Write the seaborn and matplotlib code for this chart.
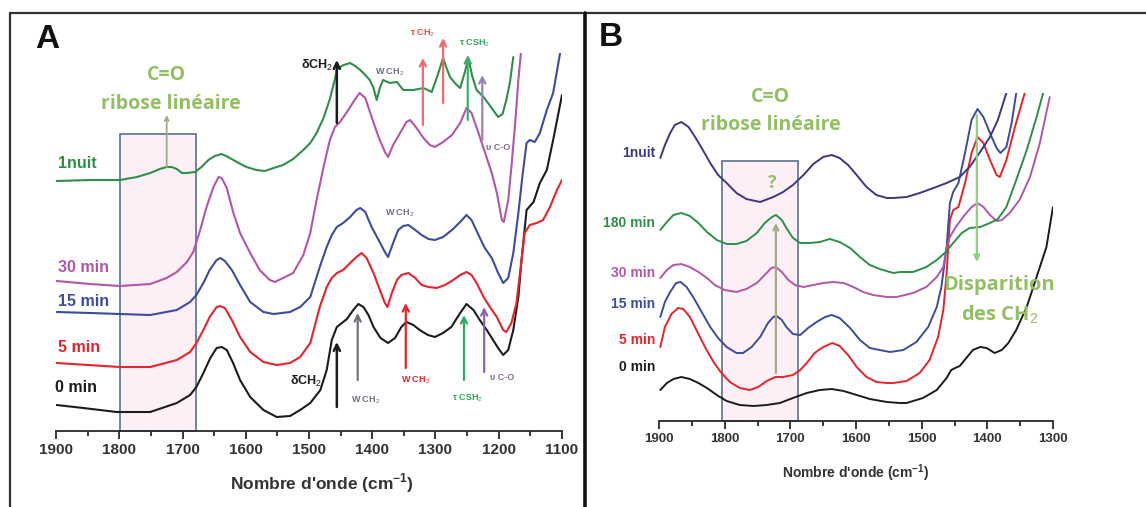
import matplotlib
matplotlib.use("Agg")
import matplotlib.pyplot as plt
from matplotlib import font_manager
from matplotlib.lines import Line2D
from matplotlib.patches import Rectangle
import seaborn as sns

# ---------------- Panel A : spectra 1900-1100 cm-1 (heights) ----------------
a_0min_wn = [1899, 1857, 1804, 1751, 1709, 1688, 1678, 1667, 1656, 1646,
             1638, 1630, 1620, 1609, 1593, 1572, 1551, 1530, 1514, 1498,
             1482, 1472, 1464, 1456, 1448, 1440, 1430, 1422, 1414, 1406,
             1398, 1387, 1375, 1364, 1354, 1346, 1335, 1325, 1312, 1301,
             1288, 1275, 1261, 1251, 1240, 1230, 1219, 1211, 1201, 1193,
             1185, 1177, 1169, 1164, 1156, 1145, 1135, 1124, 1114, 1100]
a_0min = [26, 23, 19, 19, 28, 36, 44, 58, 73, 83,
          84, 81, 68, 51, 34, 21, 14, 15, 21, 28,
          41, 61, 91, 104, 108, 112, 121, 127, 124, 116,
          104, 93, 88, 93, 104, 109, 106, 101, 96, 94,
          98, 104, 118, 127, 121, 111, 101, 93, 83, 76,
          81, 101, 134, 171, 221, 229, 248, 261, 291, 336]

a_5min_wn = [1899, 1799, 1751, 1709, 1688, 1678, 1667, 1657, 1646, 1641,
             1633, 1622, 1609, 1593, 1572, 1551, 1530, 1514, 1498, 1483,
             1472, 1464, 1456, 1446, 1435, 1425, 1417, 1409, 1398, 1388,
             1380, 1376, 1369, 1361, 1354, 1343, 1332, 1322, 1311, 1298,
             1285, 1272, 1261, 1251, 1243, 1235, 1224, 1214, 1203, 1193,
             1188, 1180, 1172, 1164, 1159, 1151, 1140, 1130, 1119, 1108, 1100]
a_5min = [68, 64, 64, 71, 79, 88, 101, 114, 124, 125,
          123, 111, 94, 79, 69, 66, 68, 74, 88, 124,
          144, 153, 158, 161, 168, 174, 178, 173, 158, 141,
          128, 124, 138, 151, 156, 158, 153, 146, 144, 143,
          146, 151, 156, 159, 156, 148, 134, 124, 114, 101,
          99, 108, 128, 171, 198, 206, 208, 211, 224, 241, 251]

a_15min_wn = [1899, 1846, 1799, 1751, 1709, 1688, 1678, 1667, 1657, 1646,
              1640, 1633, 1622, 1609, 1593, 1572, 1556, 1530, 1514, 1498,
              1483, 1472, 1464, 1456, 1446, 1435, 1425, 1419, 1411, 1401,
              1390, 1380, 1375, 1367, 1359, 1351, 1343, 1332, 1322, 1311,
              1301, 1288, 1274, 1261, 1251, 1243, 1232, 1222, 1211, 1201,
              1193, 1185, 1177, 1169, 1162, 1156, 1151, 1143, 1135, 1124,
              1114, 1103]
a_15min = [119, 118, 117, 116, 121, 129, 136, 148, 161, 171,
           173, 170, 161, 146, 129, 119, 117, 119, 124, 134,
           164, 184, 196, 204, 208, 214, 221, 223, 219, 204,
           191, 179, 174, 188, 201, 205, 206, 201, 196, 192,
           191, 194, 201, 209, 216, 211, 196, 183, 173, 158,
           148, 153, 178, 218, 258, 288, 291, 289, 298, 321,
           338, 378]

a_30min_wn = [1899, 1846, 1799, 1751, 1725, 1709, 1693, 1683, 1672, 1662,
              1651, 1643, 1638, 1630, 1620, 1609, 1593, 1578, 1562, 1554,
              1541, 1525, 1509, 1498, 1488, 1477, 1467, 1459, 1451, 1440,
              1430, 1420, 1411, 1401, 1390, 1380, 1375, 1367, 1356, 1346,
              1340, 1330, 1319, 1309, 1301, 1288, 1274, 1261, 1251, 1243,
              1232, 1222, 1211, 1203, 1195, 1192, 1185, 1180, 1174, 1169, 1165]
a_30min = [150, 147, 145, 147, 153, 159, 169, 179, 201, 224,
           244, 254, 253, 243, 219, 198, 178, 161, 151, 149,
           153, 158, 176, 198, 231, 264, 291, 304, 309, 319,
           329, 338, 333, 314, 294, 279, 274, 286, 298, 309,
           311, 303, 293, 286, 284, 289, 296, 308, 323, 318,
           298, 279, 258, 238, 211, 209, 231, 264, 308, 351, 378]

a_nuit_wn = [1899, 1846, 1799, 1772, 1751, 1736, 1725, 1717, 1709, 1701,
             1693, 1680, 1670, 1659, 1649, 1638, 1628, 1614, 1599, 1583,
             1570, 1556, 1541, 1525, 1509, 1498, 1488, 1477, 1467, 1459,
             1456, 1445, 1435, 1427, 1419, 1411, 1404, 1398, 1393, 1388,
             1383, 1372, 1361, 1351, 1335, 1319, 1306, 1297, 1288, 1282,
             1277, 1268, 1261, 1254, 1248, 1242, 1235, 1224, 1209, 1201,
             1194, 1188, 1182, 1177]
a_nuit = [250, 251, 251, 254, 258, 262, 264, 264, 262, 258,
          258, 259, 264, 271, 275, 277, 274, 269, 264, 261,
          260, 263, 266, 272, 281, 288, 298, 313, 332, 352,
          362, 366, 368, 365, 361, 356, 351, 343, 331, 343,
          351, 348, 349, 341, 341, 343, 339, 355, 373, 362,
          354, 347, 343, 358, 373, 355, 341, 334, 321, 314,
          317, 331, 350, 374]

# ---------------- Panel B : spectra 1900-1300 cm-1 ----------------
b_0min_wn = [1898, 1888, 1878, 1866, 1853, 1840, 1827, 1812, 1797, 1777,
             1756, 1736, 1716, 1696, 1675, 1655, 1637, 1619, 1599, 1579,
             1553, 1533, 1523, 1498, 1477, 1462, 1455, 1449, 1442, 1432,
             1422, 1411, 1401, 1389, 1378, 1368, 1356, 1340, 1325, 1310, 1300]
b_0min = [31, 38, 42, 44, 42, 38, 33, 26, 20, 16,
          15, 16, 18, 23, 28, 31, 32, 30, 26, 22,
          19, 18, 18, 23, 31, 43, 51, 53, 55, 63,
          71, 74, 73, 68, 71, 78, 91, 114, 144, 174, 214]

b_5min_wn = [1898, 1891, 1881, 1871, 1863, 1853, 1843, 1830, 1817, 1805,
             1792, 1777, 1762, 1749, 1736, 1723, 1711, 1696, 1685, 1675,
             1663, 1650, 1636, 1625, 1612, 1599, 1584, 1569, 1553, 1543,
             1523, 1503, 1488, 1475, 1467, 1462, 1457, 1452, 1444, 1434,
             1424, 1415, 1406, 1396, 1386, 1381, 1371, 1358, 1343]
b_5min = [74, 94, 107, 113, 112, 104, 91, 74, 59, 48,
          39, 33, 31, 34, 40, 44, 44, 46, 51, 58,
          68, 74, 78, 75, 66, 54, 44, 39, 38, 38,
          40, 48, 61, 84, 111, 148, 201, 211, 214, 238,
          268, 284, 278, 261, 246, 244, 261, 294, 328]

b_15min_wn = [1898, 1891, 1883, 1874, 1867, 1858, 1848, 1835, 1822, 1810,
              1797, 1782, 1772, 1759, 1746, 1734, 1726, 1721, 1713, 1706,
              1696, 1685, 1673, 1660, 1647, 1637, 1625, 1609, 1594, 1579,
              1564, 1548, 1528, 1508, 1490, 1477, 1470, 1462, 1457, 1452,
              1444, 1434, 1424, 1415, 1406, 1396, 1386, 1380, 1371, 1363, 1356]
b_15min = [104, 119, 129, 138, 139, 134, 124, 109, 94, 83,
           74, 68, 68, 74, 84, 98, 104, 105, 101, 94,
           87, 86, 93, 99, 104, 106, 103, 93, 81, 73,
           71, 69, 71, 79, 94, 114, 134, 174, 218, 229,
           238, 268, 301, 312, 304, 288, 273, 268, 274, 298, 328]

b_30min_wn = [1898, 1888, 1878, 1866, 1853, 1840, 1827, 1815, 1800, 1782,
              1767, 1751, 1739, 1729, 1722, 1713, 1703, 1693, 1680, 1665,
              1650, 1635, 1619, 1604, 1589, 1574, 1553, 1538, 1513, 1493,
              1477, 1467, 1462, 1457, 1449, 1437, 1424, 1415, 1406, 1396,
              1386, 1378, 1366, 1351, 1335, 1320, 1305]
b_30min = [143, 151, 156, 157, 154, 149, 143, 136, 131, 129,
           132, 138, 146, 153, 154, 149, 141, 136, 134, 136,
           138, 139, 138, 134, 129, 126, 124, 124, 128, 134,
           144, 154, 174, 184, 193, 204, 214, 218, 214, 206,
           200, 201, 208, 221, 244, 278, 324]

b_180min_wn = [1898, 1888, 1878, 1866, 1853, 1840, 1827, 1812, 1797, 1782,
               1767, 1751, 1739, 1728, 1722, 1713, 1706, 1696, 1685, 1670,
               1655, 1640, 1625, 1609, 1594, 1579, 1564, 1543, 1533, 1513,
               1493, 1477, 1465, 1452, 1439, 1427, 1411, 1396, 1384, 1371,
               1356, 1340, 1325, 1315]
b_180min = [191, 199, 206, 208, 205, 198, 189, 181, 177, 177,
            180, 188, 198, 204, 206, 201, 193, 183, 178, 178,
            179, 182, 179, 173, 164, 156, 152, 148, 149, 149,
            154, 161, 168, 178, 188, 193, 194, 198, 202, 214,
            241, 271, 304, 328]

b_nuit_wn = [1898, 1891, 1883, 1876, 1866, 1855, 1845, 1835, 1822, 1810,
             1797, 1782, 1767, 1746, 1726, 1711, 1696, 1680, 1665, 1650,
             1637, 1625, 1612, 1599, 1584, 1569, 1553, 1543, 1523, 1503,
             1482, 1462, 1442, 1427, 1411, 1396, 1384, 1371]
b_nuit = [263, 276, 288, 296, 299, 294, 284, 273, 258, 246,
          238, 228, 222, 219, 224, 229, 236, 246, 257, 264,
          266, 263, 256, 246, 234, 226, 223, 223, 224, 228,
          233, 238, 244, 254, 269, 284, 301, 328]

a_ticks = [1900, 1800, 1700, 1600, 1500, 1400, 1300, 1200, 1100]
b_ticks = [1900, 1800, 1700, 1600, 1500, 1400, 1300]

BLACK, RED, BLUE, MAGENTA, GREEN, NAVY = "#1c1c1c", "#e8232b", "#3c4c9e", "#b456a8", "#2f8f4a", "#3b3886"
OLIVE = "#93bf63"

sns.set_style("white")
plt.rcParams['font.family'] = ['Liberation Sans', 'DejaVu Sans']
plt.rcParams['mathtext.fontset'] = 'custom'
plt.rcParams['mathtext.rm'] = 'Liberation Sans'
plt.rcParams['mathtext.bf'] = 'Liberation Sans:bold'

names = {f.name for f in font_manager.fontManager.ttflist}
NARROW = 'Liberation Sans Narrow' if 'Liberation Sans Narrow' in names else 'Liberation Sans'
CAL = 'Open Sans' if 'Open Sans' in names else 'DejaVu Sans'

W, H = 1146, 507
fig = plt.figure(figsize=(W / 100, H / 100), dpi=100)


def fx(px):
    return px / W


def fy(py):
    return 1 - py / H


axA = fig.add_axes([fx(56), fy(431), (562 - 56) / W, (431 - 53) / H])
axB = fig.add_axes([fx(659), fy(421), (1053 - 659) / W, (421 - 93) / H])


def style_axis(ax, xlim, ylim, ticks, fs, fam):
    ax.set_xlim(*xlim)
    ax.set_ylim(*ylim)
    ax.patch.set_alpha(0)
    for s in ['left', 'right', 'top']:
        ax.spines[s].set_visible(False)
    ax.spines['bottom'].set_linewidth(1.3)
    ax.spines['bottom'].set_color('#2a2a2a')
    ax.set_yticks([])
    ax.set_ylabel('')
    ax.set_xticks(ticks)
    ax.set_xticks([t - 50 for t in ticks[:-1]], minor=True)
    ax.tick_params(axis='x', which='major', direction='out', length=6, width=1.3,
                   color='#2a2a2a', labelsize=fs, pad=3, bottom=True)
    ax.tick_params(axis='x', which='minor', direction='out', length=3.5, width=1.3,
                   color='#2a2a2a', bottom=True)
    ax.set_xticklabels([str(t) for t in ticks], fontweight='bold', family=fam, color='#333333')


def arrow(ax, x, y0, y1, color, lw=1.6, style='->', ms=11):
    ax.annotate('', xy=(x, y1), xytext=(x, y0), annotation_clip=False,
                arrowprops=dict(arrowstyle=style, color=color, lw=lw, mutation_scale=ms,
                                shrinkA=0, shrinkB=0))


def label(ax, x, y, s, color, fs, ha='center', weight='bold', family=None):
    ax.text(x, y, s, color=color, fontsize=fs, ha=ha, va='center', fontweight=weight,
            family=family if family else ['Liberation Sans', 'DejaVu Sans'], clip_on=False)


# ---------------- Panel A ----------------
axA.add_patch(Rectangle((1799, 0), 1679 - 1799, 297, facecolor='#fcf0f6', edgecolor='#5a7092',
                        lw=1.2, zorder=0, clip_on=False))
for wn, hv, c in [(a_0min_wn, a_0min, BLACK), (a_5min_wn, a_5min, RED), (a_15min_wn, a_15min, BLUE),
                  (a_30min_wn, a_30min, MAGENTA), (a_nuit_wn, a_nuit, GREEN)]:
    sns.lineplot(x=wn, y=hv, ax=axA, color=c, linewidth=1.5, sort=False, estimator=None,
                 solid_joinstyle='round')
style_axis(axA, (1900, 1100), (0, 378), a_ticks, 11, ['Liberation Sans', 'DejaVu Sans'])
axA.set_xlabel(r"Nombre d'onde (cm$^{\mathbf{-1}}$)", fontsize=12.5, fontweight='bold', color='#333333')
axA.xaxis.set_label_coords(0.526, -0.138)
axA.xaxis.label.set_va('center')

label(axA, 1897, 267, '1nuit', GREEN, 11.5, ha='left')
label(axA, 1897, 164, '30 min', MAGENTA, 11.5, ha='left')
label(axA, 1897, 129, '15 min', BLUE, 11.5, ha='left')
label(axA, 1897, 83, '5 min', RED, 11.5, ha='left')
label(axA, 1902, 43, '0 min', BLACK, 11.5, ha='left')

label(axA, 1725, 356, 'C=O', OLIVE, 14, family=CAL)
label(axA, 1718, 327, 'ribose linéaire', OLIVE, 14, family=CAL)
arrow(axA, 1725, 264, 316, '#9cae80', lw=1.3, ms=7)

# top annotations (1nuit)
arrow(axA, 1456, 308, 371, BLACK, lw=1.8)
label(axA, 1462, 366, r'δCH$_2$', BLACK, 9, ha='right')
label(axA, 1372, 359, r'W CH$_2$', '#6e6e80', 6.5)
arrow(axA, 1320, 306, 373, '#f06a6a')
arrow(axA, 1288, 328, 393, '#f06a6a')
label(axA, 1320, 398, r'τ CH$_2$', '#ee4a4a', 6.5)
arrow(axA, 1249, 311, 376, '#3fae6c')
label(axA, 1238, 388, r'τ CSH$_2$', '#2ea860', 6.5)
arrow(axA, 1226, 291, 356, '#9c82ac')
label(axA, 1201, 284, 'υ C-O', '#8a6aa0', 6.5)
label(axA, 1356, 218, r'W CH$_2$', '#6e6e80', 6.5)

# bottom annotations (0 min)
arrow(axA, 1456, 24, 89, BLACK, lw=1.8)
label(axA, 1505, 50, r'δCH$_2$', BLACK, 9)
arrow(axA, 1423, 51, 118, '#70707a')
label(axA, 1411, 31, r'W CH$_2$', '#6e6e80', 6.5)
arrow(axA, 1347, 63, 128, RED)
label(axA, 1331, 51, r'W CH$_2$', RED, 6.5)
arrow(axA, 1255, 51, 116, '#2eac66')
label(axA, 1250, 33, r'τ CSH$_2$', '#2ea860', 6.5)
arrow(axA, 1223, 59, 124, '#8a64ae')
label(axA, 1195, 54, 'υ C-O', '#8a6aa0', 6.5)

# ---------------- Panel B ----------------
axB.add_patch(Rectangle((1804, 0), 1688 - 1804, 260, facecolor='#fcf0f6', edgecolor='#5a7092',
                        lw=1.2, zorder=0, clip_on=False))
for wn, hv, c in [(b_0min_wn, b_0min, BLACK), (b_5min_wn, b_5min, RED), (b_15min_wn, b_15min, BLUE),
                  (b_30min_wn, b_30min, MAGENTA), (b_180min_wn, b_180min, GREEN), (b_nuit_wn, b_nuit, NAVY)]:
    sns.lineplot(x=wn, y=hv, ax=axB, color=c, linewidth=1.4, sort=False, estimator=None,
                 solid_joinstyle='round')
style_axis(axB, (1900, 1300), (0, 328), b_ticks, 9.5, [NARROW, 'DejaVu Sans'])
axB.set_xlabel(r"Nombre d'onde (cm$^{\mathbf{-1}}$)", fontsize=10, fontweight='bold', color='#333333',
               family=[NARROW, 'DejaVu Sans'], labelpad=12)

fam_b = [NARROW, 'DejaVu Sans']
label(axB, 1906, 268, '1nuit', NAVY, 10, ha='right', family=fam_b)
label(axB, 1906, 198, '180 min', GREEN, 10, ha='right', family=fam_b)
label(axB, 1906, 148, '30 min', MAGENTA, 10, ha='right', family=fam_b)
label(axB, 1906, 117, '15 min', BLUE, 10, ha='right', family=fam_b)
label(axB, 1906, 81, '5 min', RED, 10, ha='right', family=fam_b)
label(axB, 1906, 54, '0 min', BLACK, 10, ha='right', family=fam_b)

label(axB, 1730, 324, 'C=O', OLIVE, 14, family=CAL)
label(axB, 1730, 296, 'ribose linéaire', OLIVE, 14, family=CAL)
label(axB, 1728, 238, '?', OLIVE, 13, family=CAL)
arrow(axB, 1722, 48, 198, '#a4aa84', lw=1.6, ms=9)
arrow(axB, 1416, 306, 159, '#8fcf7e', lw=1.6, style='-|>', ms=9)
label(axB, 1382, 136, 'Disparition', OLIVE, 14.5, family=CAL)
label(axB, 1381, 106, r'des CH$_2$', OLIVE, 14.5, family=CAL)

# ---------------- frames and panel letters ----------------
fig.add_artist(Line2D([fx(10), fx(10)], [fy(13), fy(507)], transform=fig.transFigure, color='#333333', lw=1.6))
fig.add_artist(Line2D([fx(10), fx(1146)], [fy(13), fy(13)], transform=fig.transFigure, color='#333333', lw=1.6))
fig.add_artist(Line2D([fx(585), fx(585)], [fy(13), fy(507)], transform=fig.transFigure, color='#111111', lw=2.6))
fig.text(fx(47), fy(40), 'A', fontsize=24, fontweight='bold', ha='center', va='center', color='#111111')
fig.text(fx(611), fy(38), 'B', fontsize=24, fontweight='bold', ha='center', va='center', color='#111111')

fig.savefig('out.png', dpi=100, facecolor='white')
